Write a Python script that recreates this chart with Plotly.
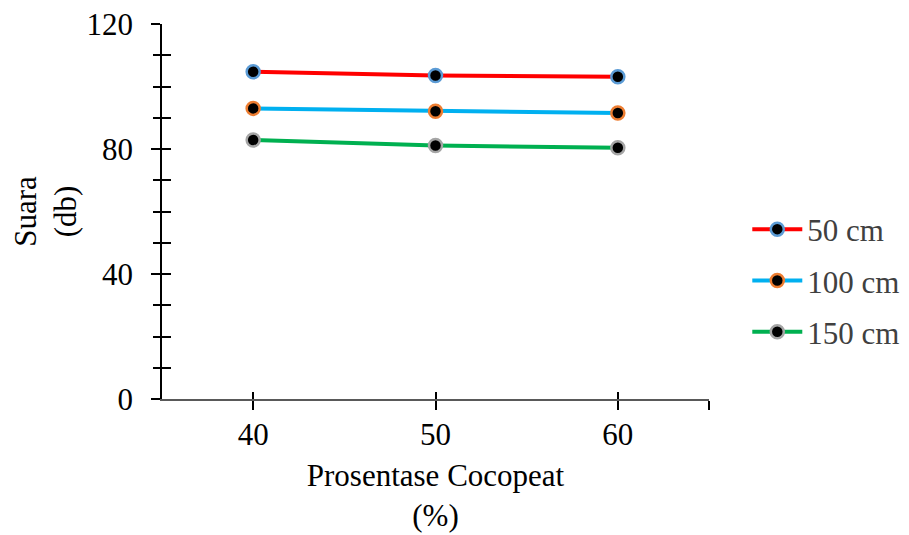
import plotly.graph_objects as go

x_vals = [40, 50, 60]
s50 = [104.7, 103.5, 103.1]
s100 = [93.0, 92.1, 91.5]
s150 = [82.9, 81.1, 80.4]
names = ["50 cm", "100 cm", "150 cm"]
line_colors = ["#FF0000", "#00B0F0", "#00B050"]
edge_colors = ["#5B9BD5", "#ED7D31", "#A5A5A5"]
series = [s50, s100, s150]

FONT = "Liberation Serif"
FS = 31
fig = go.Figure()
for i, (nm, ys) in enumerate(zip(names, series)):
    fig.add_trace(go.Scatter(
        x=x_vals, y=ys, name=nm, mode="lines+markers",
        legendgroup=nm,
        line=dict(color=line_colors[i], width=4),
        marker=dict(color="black", size=13, line=dict(color=edge_colors[i], width=2.5)),
    ))

fig.add_trace(go.Scatter(x=[None], y=[None], xaxis="x2", yaxis="y2", showlegend=False, hoverinfo="skip"))

tickfont = dict(family=FONT, size=FS, color="black")
fig.update_layout(
    width=909, height=535,
    margin=dict(l=154, r=192, t=16, b=144),
    paper_bgcolor="white", plot_bgcolor="white",
    font=dict(family=FONT, size=FS, color="black"),
    showlegend=True,
    legend=dict(x=1.07, y=0.316, xanchor="left", yanchor="middle",
                font=dict(family=FONT, size=FS, color="#404040"),
                tracegroupgap=8, itemwidth=50, bgcolor="rgba(0,0,0,0)"),
    xaxis=dict(range=[35, 65], tickvals=[40, 50, 60, 65], ticktext=["40", "50", "60", ""],
               ticks="outside", ticklen=9, tickwidth=1.5, tickcolor="black",
               showline=True, linecolor="#595959", linewidth=2, showgrid=False, zeroline=False,
               tickfont=tickfont, ticklabelstandoff=-2, automargin=False, ticklabeloverflow="allow",
               title=dict(text="Prosentase Cocopeat<br>(%)", font=dict(family=FONT, size=FS), standoff=13)),
    xaxis2=dict(range=[35, 65], overlaying="x", anchor="y", side="bottom",
                tickvals=[40, 50, 60, 65], ticks="inside", ticklen=7, tickwidth=1.5, tickcolor="black",
                showticklabels=False, showgrid=False, zeroline=False, showline=False, automargin=False),
    yaxis=dict(range=[0, 120], tickvals=[0, 40, 80, 120], ticks="outside", ticklen=9, tickwidth=1.5,
               tickcolor="black", minor=dict(dtick=10, ticks="outside", ticklen=7, tickwidth=1.5, tickcolor="black", showgrid=False),
               showline=True, linecolor="black", linewidth=1.5, showgrid=False, zeroline=False,
               tickfont=tickfont, ticklabelstandoff=12, automargin=False, ticklabeloverflow="allow",
               title=dict(text="Suara<br>(db)", font=dict(family=FONT, size=FS), standoff=9)),
    yaxis2=dict(range=[0, 120], overlaying="y", anchor="x", side="left",
                tickvals=[0, 40, 80, 120], ticks="inside", ticklen=9, tickwidth=1.5, tickcolor="black",
                minor=dict(dtick=10, ticks="inside", ticklen=9, tickwidth=1.5, tickcolor="black", showgrid=False),
                showticklabels=False, showgrid=False, zeroline=False, showline=False, automargin=False),
)
fig.write_html("out.html")
